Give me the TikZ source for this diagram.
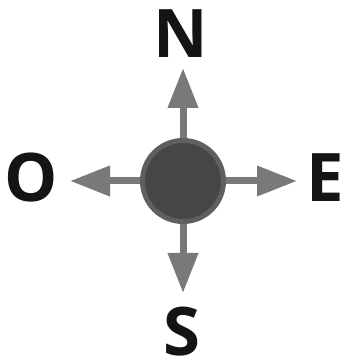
\documentclass[tikz,border=0pt]{standalone}
\usepackage{fontspec}
\setmainfont{Open Sans}
\definecolor{DiscFill}  {RGB}{70,70,70}
\definecolor{DiscRim}   {RGB}{95,95,95}
\definecolor{ArrowGray} {RGB}{120,122,121}
\definecolor{LetterInk} {RGB}{20,20,20}
\usetikzlibrary{arrows.meta,positioning}

\begin{document}
\begin{tikzpicture}[x=1pt,y=1pt,
    disc/.style={circle,fill=DiscFill,draw=DiscRim,line width=5pt,
                 minimum size=81pt,inner sep=0pt},
    pointer/.style={ArrowGray,line width=7pt,
                    -{Triangle[length=40pt,width=29pt]}},
    letter/.style={inner sep=0pt,text=LetterInk,
                   font=\fontsize{67}{67}\selectfont\bfseries}]
  \useasboundingbox (0,0) rectangle (344,363);
  %% Centre disc
  \node[disc] (c) at (183,182) {};
  %% Arrow ends
  \coordinate (tipN) at (183,295);
  \coordinate (tipS) at (183,70);
  \coordinate (tipO) at (70,182);
  \coordinate (tipE) at (297,182);
  \draw[pointer] (c) -- (tipN);
  \draw[pointer] (c) -- (tipS);
  \draw[pointer] (c) -- (tipO);
  \draw[pointer] (c) -- (tipE);
  %% Letters
  \node[letter] (n) at (181,329) {N};
  \node[letter] (s) at (182,31) {S};
  \node[letter] (o) at (31,185) {O};
  \node[letter] (e) at (325,185) {E};
\end{tikzpicture}
\end{document}
